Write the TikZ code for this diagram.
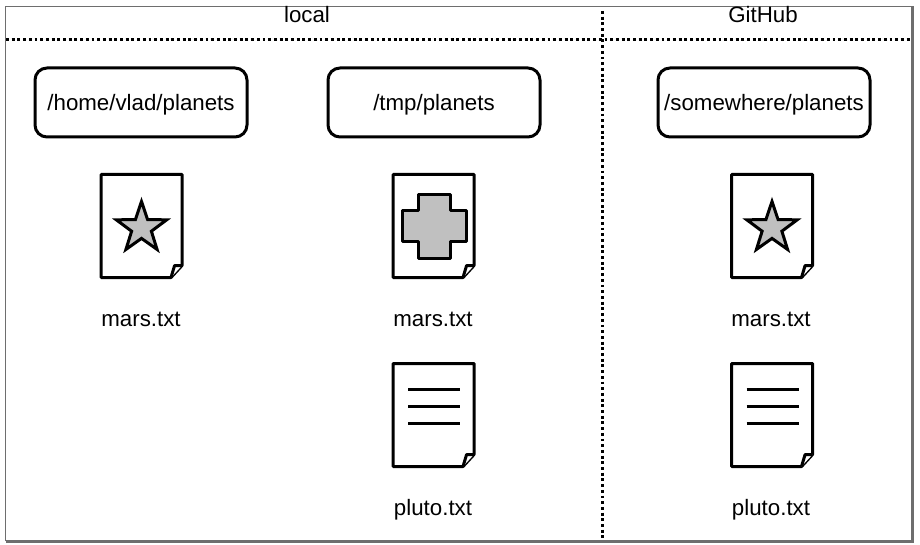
\documentclass[tikz,border=0pt]{standalone}
\usepackage{fontspec}
\setmainfont{Liberation Sans}
\usetikzlibrary{shapes.geometric}
\definecolor{framegray}{RGB}{110, 110, 110}
\definecolor{iconfill}{RGB}{192, 192, 192}
\tikzset{
  every node/.style={font=\fontsize{22.3}{26}\selectfont},
  dirbox/.style={draw, line width=3, rounded corners=12, minimum width=212, minimum height=69, inner sep=0, text height=22, text depth=5},
  label/.style={anchor=base, inner sep=0},
  sheet/.style={line width=3, line join=round, fill=white},
  icon/.style={line width=3, fill=iconfill},
  sep/.style={line width=3, dash pattern=on 2.9 off 2.8}
}
\newcommand{\sheet}[2]{
  \draw[sheet] (#1, #2) -- ++(81, 0) -- ++(0, 91) -- ++(-11, 12) -- ++(-70, 0) -- cycle;
  \draw[sheet] (#1 + 70, #2 + 103) -- ++(3.6, -12) -- ++(7.4, 0);
}
\newcommand{\textlines}[2]{
  \foreach \i in {26, 43, 60.5} {
    \draw[line width=3] (#1 + 15, #2 + \i) -- ++(52, 0);
  }
}
\newcommand{\plus}[2]{
  \draw[icon, line join=round] (#1 + 25, #2 + 20) -- ++(32, 0) -- ++(0, 16) -- ++(16, 0) -- ++(0, 31) -- ++(-16, 0) -- ++(0, 17) -- ++(-32, 0) -- ++(0, -17) -- ++(-16, 0) -- ++(0, -31) -- ++(16, 0) -- cycle;
}
\begin{document}
\begin{tikzpicture}[x=1pt, y=-1pt]
  \useasboundingbox (0, 0) rectangle (920, 545);

  % frame
  \draw[framegray, line width=1] (5.5, 541) -- (5.5, 6.5) -- (912, 6.5);
  \draw[framegray, line width=3] (912, 6.5) -- (912, 541) -- (5.5, 541);

  % columns
  \coordinate (headleft) at (6, 40);
  \coordinate (headright) at (911, 40);
  \coordinate (divtop) at (602.6, 11);
  \coordinate (divbottom) at (602.6, 539);
  \draw[sep] (headleft) -- (headright);
  \draw[sep] (divtop) -- (divbottom);

  \node[label] (local) at (307, 23) {local};
  \node[label] (github) at (763, 23) {GitHub};

  \node[dirbox] (home) at (141, 102.5) {/home/vlad/planets};
  \node[dirbox] (tmp) at (434, 102.5) {/tmp/planets};
  \node[dirbox] (somewhere) at (764, 102.5) {/somewhere/planets};

  % left
  \sheet{101}{174.5}
  \node[star, star points=5, star point ratio=2.55, draw, icon, minimum size=53, inner sep=0] (homestar) at (141.5, 228) {};
  \node[label] (homemars) at (141, 326) {mars.txt};

  % middle
  \sheet{393}{174.5}
  \plus{393}{174.5}
  \node[label] (tmpmars) at (433, 326) {mars.txt};
  \sheet{393}{363.5}
  \textlines{393}{363}
  \node[label] (tmppluto) at (433, 515) {pluto.txt};

  % right
  \sheet{731.5}{174.5}
  \node[star, star points=5, star point ratio=2.55, draw, icon, minimum size=53, inner sep=0] (remotestar) at (772, 228) {};
  \node[label] (remotemars) at (771, 326) {mars.txt};
  \sheet{731.5}{363.5}
  \textlines{731.5}{363}
  \node[label] (remotepluto) at (771, 515) {pluto.txt};
\end{tikzpicture}
\end{document}
